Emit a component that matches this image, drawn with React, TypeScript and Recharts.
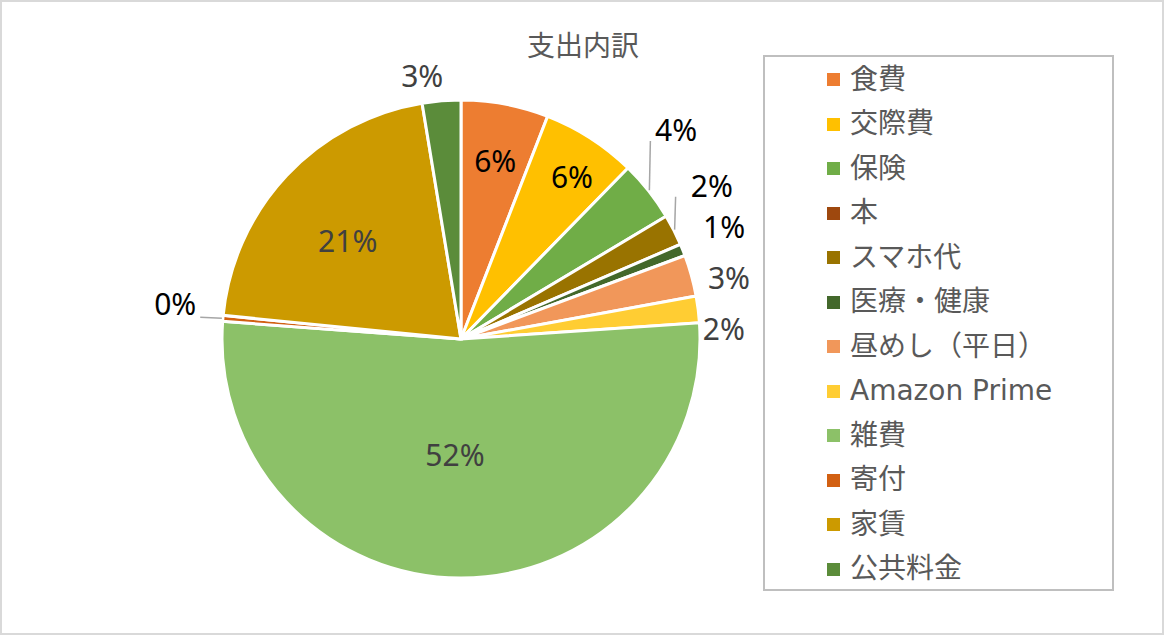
import React from 'react';
import { PieChart, Pie, Cell, Legend } from 'recharts';

const categories = ['食費', '交際費', '保険', '本', 'スマホ代', '医療・健康', '昼めし（平日）', 'Amazon Prime', '雑費', '寄付', '家賃', '公共料金'];
const values = [5.9, 6.4, 4.1, 0, 2.1, 0.8, 2.8, 1.8, 52.2, 0.4, 20.8, 2.6];
const colors = ['#ED7D31', '#FFC000', '#70AD47', '#9E480E', '#997300', '#43682B', '#F1975A', '#FFCD33', '#8CC168', '#D26012', '#CC9A00', '#5B8C3A'];
const labelColors = ['#000000', '#000000', '#000000', '#000000', '#000000', '#000000', '#404040', '#404040', '#404040', '#000000', '#404040', '#404040'];
// label placement: radius (px) and angular shift (deg, clockwise) relative to slice middle
const labelRadius = [182, 197, 300, 0, 294, 286, 275, 263, 116, 288, 150, 266];
const labelShift = [0.2, 1.5, -5.9, 0, -4.3, -1.2, 2.4, 4.9, 2.8, 2.2, -2.2, -3.7];
const leader = ['', '', 'v', '', 'v', '', '', '', '', 'h', '', ''];

const data = categories.map((name, i) => ({ name, value: values[i] }));

const RAD = Math.PI / 180;
const FONT_LATIN = "'DejaVu Sans', 'Noto Sans CJK JP', sans-serif";
const FONT_CJK = "'Noto Sans CJK JP', sans-serif";
const FONT_LABEL = "'Noto Sans', 'Open Sans', sans-serif";

const renderLabel = (props: any) => {
  const { cx, cy, midAngle, outerRadius, percent, index, value } = props;
  if (!value) return null;
  const ang = (midAngle - labelShift[index]) * RAD;
  const r = labelRadius[index];
  const x = cx + r * Math.cos(ang);
  const y = cy - r * Math.sin(ang);
  const ex = cx + (outerRadius + 1) * Math.cos(midAngle * RAD);
  const ey = cy - (outerRadius + 1) * Math.sin(midAngle * RAD);
  let line: any = null;
  if (leader[index] === 'v') {
    line = <path d={`M${ex},${ey}L${ex + 1},${y + 11}`} stroke="#A6A6A6" strokeWidth={1.5} fill="none" />;
  } else if (leader[index] === 'h') {
    line = <path d={`M${ex},${ey}L${x + 25},${ey - 1}`} stroke="#A6A6A6" strokeWidth={1.5} fill="none" />;
  }
  return (
    <g key={`lbl-${index}`}>
      {line}
      <text x={x} y={y} textAnchor="middle" dominantBaseline="central" fill={labelColors[index]} fontSize={30} fontFamily={FONT_LABEL}>
        {`${Math.round(percent * 100)}%`}
      </text>
    </g>
  );
};

const renderLegend = () => (
  <div style={{ position: 'relative', width: '100%', height: '100%' }}>
    {categories.map((c, i) => (
      <div key={c} style={{ position: 'absolute', left: 62, top: 22.5 + i * 44.5 - 20, height: 40, display: 'flex', alignItems: 'center', whiteSpace: 'nowrap' }}>
        <div style={{ width: 13, height: 13, background: colors[i], marginRight: 10 }} />
        <span style={{ fontSize: 28, fontFamily: FONT_LATIN, color: '#595959', lineHeight: '40px' }}>{c}</span>
      </div>
    ))}
  </div>
);

export default function App() {
  return (
    <div style={{ position: 'absolute', left: 0, top: 0, width: 1164, height: 635, background: '#fff' }}>
      <PieChart width={1164} height={635} margin={{ top: 0, right: 0, bottom: 0, left: 0 }} style={{ position: 'absolute', left: 0, top: 0 }}>
        <text x={583} y={44} textAnchor="middle" dominantBaseline="central" fontSize={28} fill="#595959" fontFamily={FONT_CJK}>
          支出内訳
        </text>
        <Pie
          data={data}
          dataKey="value"
          nameKey="name"
          cx={461}
          cy={339}
          outerRadius={239}
          startAngle={90}
          endAngle={-270}
          stroke="#FFFFFF"
          strokeWidth={3}
          label={renderLabel}
          labelLine={false}
          isAnimationActive={false}
        >
          {data.map((d, i) => (
            <Cell key={d.name} fill={colors[i]} />
          ))}
        </Pie>
        <Legend
          content={renderLegend}
          wrapperStyle={{ position: 'absolute', left: 763, top: 55, width: 351, height: 536, border: '2px solid #BFBFBF', boxSizing: 'border-box', bottom: 'auto', right: 'auto' }}
        />
      </PieChart>
      <div style={{ position: 'absolute', left: 0, top: 0, width: 1164, height: 635, border: '2px solid #D9D9D9', boxSizing: 'border-box', pointerEvents: 'none' }} />
    </div>
  );
}
